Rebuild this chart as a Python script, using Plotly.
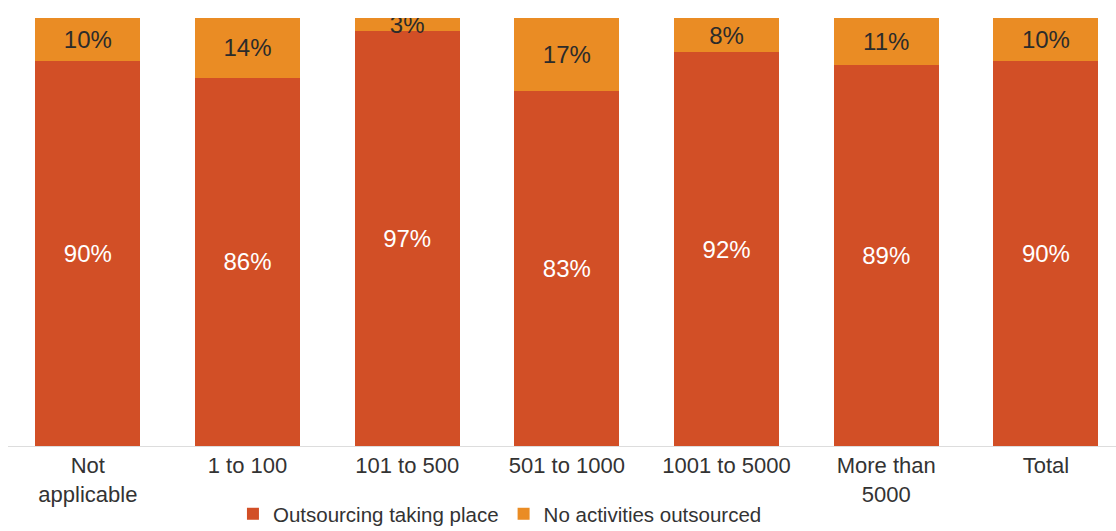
import plotly.graph_objects as go

categories = ["Not<br>applicable", "1 to 100", "101 to 500", "501 to 1000", "1001 to 5000", "More than<br>5000", "Total"]
outsourcing = [90, 86, 97, 83, 92, 89, 90]
no_activities = [10, 14, 3, 17, 8, 11, 10]

RED = "#D24F26"
ORANGE = "#EA8C24"
FONT = "Liberation Sans, Arial, sans-serif"

fig = go.Figure()
fig.add_trace(go.Bar(
    x=categories, y=outsourcing, name="Outsourcing taking place",
    marker=dict(color=RED, line=dict(width=0)),
    text=[f"{v}%" for v in outsourcing], textposition="inside",
    insidetextanchor="middle", constraintext="none",
    textfont=dict(color="white", size=24, family=FONT),
))
fig.add_trace(go.Bar(
    x=categories, y=no_activities, name="No activities outsourced",
    marker=dict(color=ORANGE, line=dict(width=0)),
    text=[f"{v}%" for v in no_activities], textposition="inside",
    insidetextanchor="middle", constraintext="none",
    textfont=dict(color="#2b2b2b", size=24, family=FONT),
))

fig.update_layout(
    barmode="stack",
    bargap=0.343,
    width=1116, height=531,
    margin=dict(l=8, r=0, t=18, b=85, autoexpand=False),
    plot_bgcolor="white", paper_bgcolor="white",
    font=dict(family=FONT, color="#333333", size=22),
    showlegend=True,
    legend=dict(orientation="h", x=0.444, xanchor="center", y=-0.112, yanchor="top",
                font=dict(size=20.5, color="#333333"), itemwidth=30, traceorder="normal",
                tracegroupgap=0),
)
fig.update_xaxes(range=[-0.5, 6.439], showline=True, linecolor="#dddddd", linewidth=1,
                 ticks="", tickfont=dict(size=22, color="#333333"), showgrid=False)
fig.update_yaxes(range=[0, 100], visible=False, showgrid=False)

fig.write_html("out.html")
